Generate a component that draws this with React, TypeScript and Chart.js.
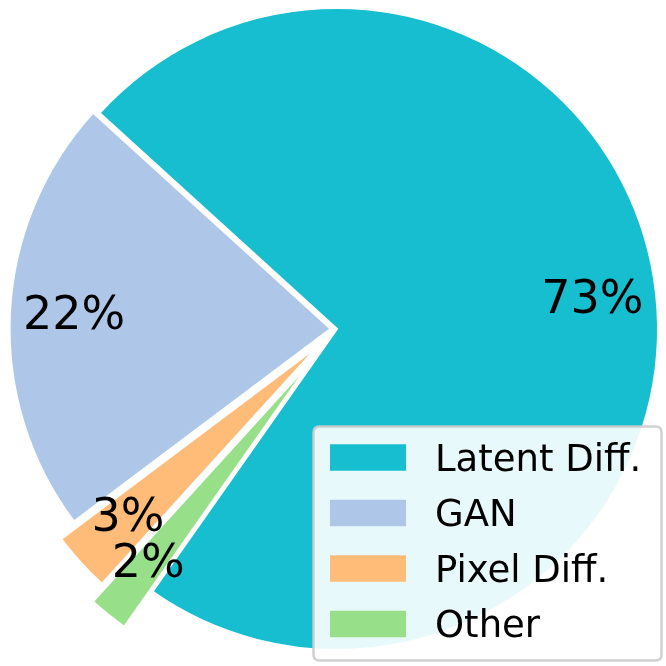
import React, { useEffect, useRef } from 'react';
import { Chart, registerables } from 'chart.js';

Chart.register(...registerables);

// ---- data ----
const categories = ['Latent Diff.', 'GAN', 'Pixel Diff.', 'Other'];
const shares = [73, 22, 3, 2];
const colors = ['#17becf', '#aec7e8', '#ffbb78', '#98df8a'];
const explode = [0, 0.02, 0.08, 0.14];

// ---- style / geometry ----
const START_ANGLE = 234.9; // matplotlib-style start angle, degrees CCW from +x
const PCT_DISTANCE = 0.8;
const RADIUS = 321;
const LABEL_FONT = 46;
const LEGEND_FONT = 37;
const FONT_FAMILY = '"DejaVu Sans", "Liberation Sans", sans-serif';

// Chart.js draws clockwise, matplotlib counter-clockwise: keep first wedge, reverse the rest
const drawOrder = [0, ...categories.map((_, i) => i).slice(1).reverse()];
const total = shares.reduce((a, b) => a + b, 0);
const rotation = 90 - (START_ANGLE + (shares[0] / total) * 360);

const explodePlugin = {
  id: 'explodeWedges',
  afterDatasetUpdate(chart: any) {
    const meta = chart.getDatasetMeta(0);
    meta.data.forEach((el: any, i: number) => {
      const idx = drawOrder[i];
      const mid = (el.startAngle + el.endAngle) / 2;
      const d = explode[idx] * RADIUS;
      el.x += Math.cos(mid) * d;
      el.y += Math.sin(mid) * d;
    });
  },
};

const pctPlugin = {
  id: 'pctLabels',
  afterDatasetsDraw(chart: any) {
    const ctx: CanvasRenderingContext2D = chart.ctx;
    const meta = chart.getDatasetMeta(0);
    ctx.save();
    ctx.font = `${LABEL_FONT}px ${FONT_FAMILY}`;
    ctx.fillStyle = '#000';
    ctx.textAlign = 'center';
    ctx.textBaseline = 'alphabetic';
    meta.data.forEach((el: any, i: number) => {
      const idx = drawOrder[i];
      const mid = (el.startAngle + el.endAngle) / 2;
      const ax = el.x + Math.cos(mid) * PCT_DISTANCE * RADIUS;
      const ay = el.y + Math.sin(mid) * PCT_DISTANCE * RADIUS;
      const txt = `${Math.round((shares[idx] / total) * 100)}%`;
      ctx.fillText(txt, ax, ay + 0.262 * LABEL_FONT);
    });
    ctx.restore();
  },
};

const legendPlugin = {
  id: 'mplLegend',
  afterDraw(chart: any) {
    const ctx: CanvasRenderingContext2D = chart.ctx;
    const bx = 313.5, by = 426.5, bw = 348, bh = 234, br = 6;
    ctx.save();
    ctx.beginPath();
    ctx.moveTo(bx + br, by);
    ctx.lineTo(bx + bw - br, by);
    ctx.quadraticCurveTo(bx + bw, by, bx + bw, by + br);
    ctx.lineTo(bx + bw, by + bh - br);
    ctx.quadraticCurveTo(bx + bw, by + bh, bx + bw - br, by + bh);
    ctx.lineTo(bx + br, by + bh);
    ctx.quadraticCurveTo(bx, by + bh, bx, by + bh - br);
    ctx.lineTo(bx, by + br);
    ctx.quadraticCurveTo(bx, by, bx + br, by);
    ctx.closePath();
    ctx.fillStyle = 'rgba(255,255,255,0.9)';
    ctx.fill();
    ctx.lineWidth = 2.5;
    ctx.strokeStyle = 'rgba(204,204,204,0.9)';
    ctx.stroke();

    ctx.font = `${LEGEND_FONT}px ${FONT_FAMILY}`;
    ctx.textAlign = 'left';
    ctx.textBaseline = 'alphabetic';
    const rowH = 55.5;
    const firstCenter = 457.5;
    categories.forEach((name, i) => {
      const cy = firstCenter + i * rowH;
      ctx.fillStyle = colors[i];
      ctx.fillRect(330, cy - 13.25, 76, 26.5);
      ctx.fillStyle = '#000';
      ctx.fillText(name, 435, cy + 13);
    });
    ctx.restore();
  },
};

export default function App() {
  const ref = useRef<HTMLCanvasElement>(null);
  useEffect(() => {
    const labels = drawOrder.map((i) => categories[i]);
    const data = drawOrder.map((i) => shares[i]);
    const bg = drawOrder.map((i) => colors[i]);
    const chart = new Chart(ref.current as HTMLCanvasElement, {
      type: 'pie',
      data: {
        labels,
        datasets: [
          {
            data,
            backgroundColor: bg,
            borderColor: '#ffffff',
            borderWidth: 2,
            borderJoinStyle: 'miter',
            clip: false,
          } as any,
        ],
      },
      options: {
        responsive: false,
        animation: false,
        events: [],
        radius: RADIUS,
        rotation,
        layout: { padding: { left: 8, right: 0, top: 0, bottom: 8 } },
        plugins: {
          legend: { display: false },
          tooltip: { enabled: false },
          title: { display: false },
        },
      } as any,
      plugins: [explodePlugin, pctPlugin, legendPlugin],
    });
    return () => chart.destroy();
  }, []);
  return (
    <div style={{ position: 'absolute', left: 0, top: 0, width: 666, height: 666, background: '#fff' }}>
      <canvas ref={ref} width={666} height={666} style={{ display: 'block' }} />
    </div>
  );
}
